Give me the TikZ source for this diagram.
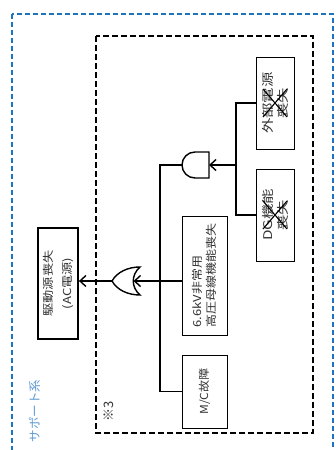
\documentclass[tikz,border=0pt]{standalone}
\usepackage{fontspec}
\newfontfamily\jp{Noto Sans CJK JP}
\usetikzlibrary{arrows.meta}
\definecolor{supblue}{RGB}{30,115,190}
\definecolor{suptext}{RGB}{95,155,210}
\newcommand\tx[2][1.18]{\scalebox{#1}[1]{#2}}
\begin{document}
\begin{tikzpicture}[x=1pt,y=-1pt,
  evbox/.style={draw, line width=0.9pt, rotate=90, inner sep=0pt, align=center,
    text=black!80, font=\jp\fontsize{11}{14}\selectfont},
  bigtext/.style={font=\jp\fontsize{12}{15}\selectfont},
  conn/.style={line width=1.6pt},
  arr/.style={conn, -{Straight Barb[length=6pt,width=11pt,line width=1.4pt]}},
  gate/.style={line width=1.4pt},
  cross/.style={line width=1.1pt},
  lbl/.style={rotate=90, font=\jp\fontsize{12}{14}\selectfont}
  ]
\useasboundingbox (0,0) rectangle (335,450);
\draw[supblue, line width=2pt, dash pattern=on 5pt off 3pt] (12,14) rectangle (333,462);
\draw[line width=2.2pt, dash pattern=on 6pt off 3pt] (96,36) rectangle (313,433);

% event boxes
\node[evbox, bigtext, minimum width=92pt, minimum height=38pt] (ext) at (275,103) {\tx[1.28]{外部電源}\\\tx[1.28]{喪失}};
\node[evbox, bigtext, minimum width=92pt, minimum height=38pt] (dg) at (275,215) {\tx[1.28]{DG機能}\\\tx[1.28]{喪失}};
\node[evbox, align=left, minimum width=119pt, minimum height=45pt] (hv) at (204.5,275.5) {\tx{6.6kV非常用}\\\tx{高圧母線機能喪失}};
\node[evbox, minimum width=73pt, minimum height=45pt] (mc) at (204.5,391.5) {\tx[1.1]{M/C故障}};
\node[evbox, line width=1.8pt, minimum width=111pt, minimum height=40pt] (drive) at (58,283.5) {\tx[1.2]{駆動源喪失}\\[5pt]\tx[1.2]{(AC電源)}};

% crosses
\draw[cross] (ext.center) ++(-12,-14) -- ++(24,28);
\draw[cross] (ext.center) ++(-12,14) -- ++(24,-28);
\draw[cross] (dg.center) ++(-12,-14) -- ++(24,28);
\draw[cross] (dg.center) ++(-12,14) -- ++(24,-28);

% gates
\draw[gate] (209,152) -- (195,152) .. controls (187.8,152) and (182,157.8) .. (182,165)
  .. controls (182,172.2) and (187.8,178) .. (195,178) -- (209,178) -- cycle;
\draw[gate] (140,267) .. controls (131,275) and (131,287) .. (140,295)
  .. controls (128,295) and (117,290) .. (112,281)
  .. controls (117,272) and (128,267) .. (140,267) -- cycle;

\coordinate (j) at (236,165);
\coordinate (andin) at (209,165);
\coordinate (andout) at (182,165);
\coordinate (bus) at (160,281);
\coordinate (orin) at (133.5,281);
\coordinate (orout) at (112,281);

% connectors
\draw[conn] (ext.north) -| (j) |- (dg.north);
\draw[arr] (j) -- (andin);
\draw[conn] (andout) -| (bus) |- (mc.north);
\draw[arr] (hv.north |- bus) -- (orin);
\draw[arr] (orout) -- (orout -| drive.south);

% labels
\node[lbl, text=black!80, font=\jp\fontsize{13}{15}\selectfont] (note) at (109,411) {※3};
\node[lbl, anchor=east, text=suptext] (sup) at (35,376) {\tx[1.05]{サポート系}};
\end{tikzpicture}
\end{document}
